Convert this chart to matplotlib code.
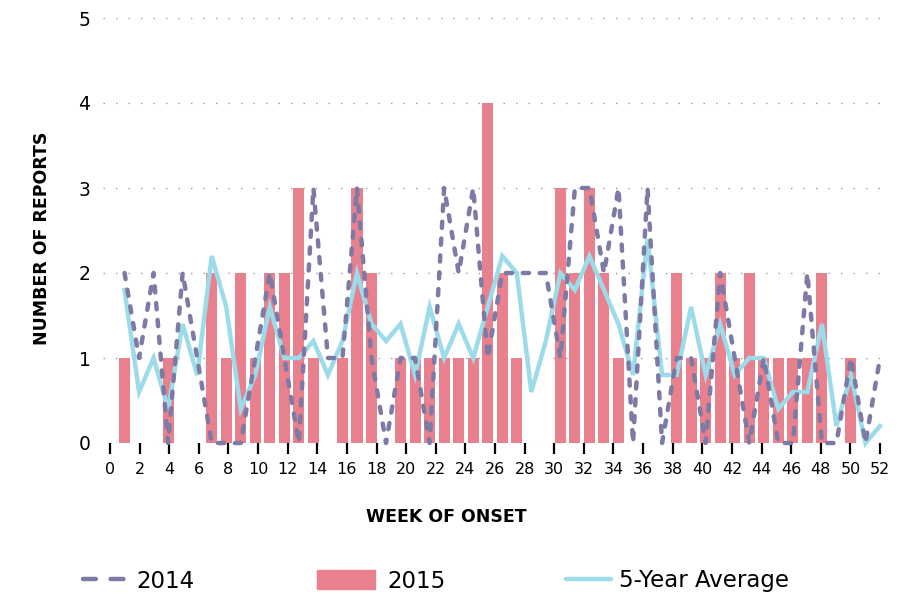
import numpy as np
import matplotlib
matplotlib.use("Agg")
import matplotlib.pyplot as plt
from matplotlib.lines import Line2D
from matplotlib.patches import Patch

# ---- data (index 1..53 as plotted on the category scale) ----
weeks = list(range(1, 54))
cases_2014 = [2, 1, 2, 0, 2, 1, 0, 0, 0, 1,
              2, 1, 0, 3, 1, 1, 3, 1, 0, 1,
              1, 0, 3, 2, 3, 1, 2, 2, 2, 2,
              1, 3, 3, 2, 3, 0, 3, 0, 1, 1,
              0, 2, 1, 0, 1, 0, 0, 2, 0, 0,
              1, 0, 1]
cases_2015 = [1, 0, 0, 1, 0, 0, 2, 1, 2, 1,
              2, 2, 3, 1, 0, 1, 3, 2, 0, 1,
              1, 1, 1, 1, 1, 4, 2, 1, 0, 0,
              3, 2, 3, 2, 1, 0, 0, 0, 2, 1,
              1, 2, 1, 2, 1, 1, 1, 1, 2, 0,
              1, 0, 0]
avg_5yr = [1.8, 0.6, 1.0, 0.4, 1.4, 0.8, 2.2, 1.6, 0.4, 0.8,
           1.6, 1.0, 1.0, 1.2, 0.8, 1.2, 2.0, 1.4, 1.2, 1.4,
           0.8, 1.6, 1.0, 1.4, 1.0, 1.6, 2.2, 2.0, 0.6, 1.2,
           2.0, 1.8, 2.2, 1.8, 1.4, 0.8, 2.4, 0.8, 0.8, 1.6,
           0.8, 1.4, 0.8, 1.0, 1.0, 0.4, 0.6, 0.6, 1.4, 0.2,
           0.8, 0.0, 0.2]
tick_labels = list(range(0, 53, 2))
y_ticks = [0, 1, 2, 3, 4, 5]

C2014 = "#7d7aa5"
C2015 = "#e8818d"
CAVG = "#9cdbe9"

FONT = ["DejaVu Sans"]
plt.rcParams["font.family"] = FONT

W, H = 909, 597
fig = plt.figure(figsize=(W / 100, H / 100), dpi=100)
left_px, right_px, top_px, bot_px = 103, 880, 18, 443
ax = fig.add_axes([left_px / W, 1 - bot_px / H,
                   (right_px - left_px) / W, (bot_px - top_px) / H])

n = len(weeks)
step_px = 770 / n  # category spacing
ax.set_xlim(-(110 - left_px) / step_px, n)
ax.set_ylim(0, 5)

for s in ax.spines.values():
    s.set_visible(False)

# gridlines
for yv in y_ticks:
    ax.axhline(yv, color="#9a9a9a", lw=1.0, ls=(0, (1, 8)), zorder=0)

LW = 3.2
ax.bar(weeks, cases_2015, width=0.76, color=C2015, zorder=2)
ax.plot(weeks, avg_5yr, color=CAVG, lw=LW, zorder=3, clip_on=False,
        solid_joinstyle="miter")
ax.plot(weeks, cases_2014, color=C2014, lw=LW, zorder=4, clip_on=False,
        dashes=(1.4, 2.4), dash_capstyle="round")

# x ticks: 0..52 axis spanning the whole category range
scale = n / 52
ax.set_xticks([t * scale for t in tick_labels])
ax.set_xticklabels([str(t) for t in tick_labels], fontsize=11.5)
ax.tick_params(axis="x", length=8, width=1.6, color="black", pad=6)
ax.set_yticks(y_ticks)
ax.set_yticklabels([str(v) for v in y_ticks], fontsize=13.5)
ax.tick_params(axis="y", length=0, pad=9)

fig.text(446 / W, 1 - 517 / H, "WEEK OF ONSET", ha="center", va="center",
         fontsize=12.5, fontweight="bold")
fig.text(42 / W, 1 - 238 / H, "NUMBER OF REPORTS", ha="center", va="center",
         rotation=90, fontsize=12.5, fontweight="bold")

# legends
FS = 16.5
h1 = Line2D([], [], color=C2014, lw=LW, dashes=(2.9, 3.3), dash_capstyle="round")
h2 = Patch(color=C2015)
h3 = Line2D([], [], color=CAVG, lw=LW, solid_capstyle="round")
entries = [(h1, "2014", 83, 1.9, 0.45), (h2, "2015", 317, 2.55, 0.5),
           (h3, "5-Year Average", 566, 1.95, 0.35)]
for h, lab, xp, hl, tp in entries:
    fig.legend([h], [lab], loc="center left",
               bbox_to_anchor=(xp / W, 1 - 581 / H), frameon=False,
               fontsize=FS, handlelength=hl, handleheight=0.85,
               handletextpad=tp, borderaxespad=0, borderpad=0)

fig.savefig("out.png", dpi=100)
